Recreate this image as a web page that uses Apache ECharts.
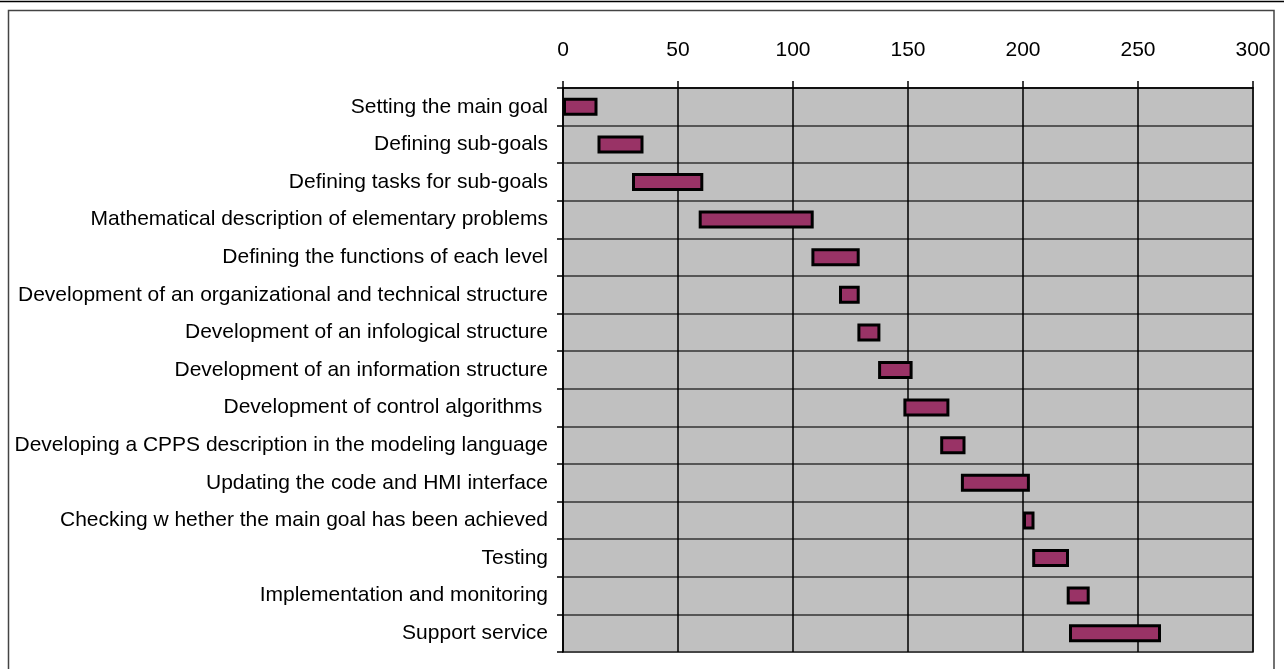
<!DOCTYPE html>
<html>
<head>
<meta charset="utf-8">
<style>
html,body{margin:0;padding:0;background:#fff;}
#chart{width:1284px;height:669px;}
</style>
<script src="https://cdn.jsdelivr.net/npm/echarts@6/dist/echarts.min.js"></script>
</head>
<body>
<div id="chart"></div>
<script>
const tasks = [
  "Setting the main goal",
  "Defining sub-goals",
  "Defining tasks for sub-goals",
  "Mathematical description of elementary problems",
  "Defining the functions of each level",
  "Development of an organizational and technical structure",
  "Development of an infological structure",
  "Development of an information structure",
  "Development of control algorithms ",
  "Developing a CPPS description in the modeling language",
  "Updating the code and HMI interface",
  "Checking w hether the main goal has been achieved",
  "Testing",
  "Implementation and monitoring",
  "Support service"
];
const starts =    [0, 15, 30, 59, 108, 120, 128, 137, 148, 164, 173, 200, 204, 219, 220];
const durations = [15, 20, 31, 50, 21, 9, 10, 15, 20, 11, 30, 5, 16, 10, 40];

const chart = echarts.init(document.getElementById('chart'));
chart.setOption({
  animation: false,
  backgroundColor: '#ffffff',
  textStyle: {fontFamily: 'Liberation Sans, Arial, sans-serif'},
  graphic: [
    {type: 'line', shape: {x1: 0, y1: 1.5, x2: 1284, y2: 1.5}, style: {stroke: '#000', lineWidth: 1.5}, z: 100},
    {type: 'rect', shape: {x: 8.5, y: 10.5, width: 1265.5, height: 700}, style: {fill: 'none', stroke: '#444', lineWidth: 1.5}, z: 100}
  ],
  grid: {
    left: 563, right: 31, top: 88, bottom: 17,
    show: true, backgroundColor: '#C0C0C0', borderColor: '#808080', borderWidth: 2
  },
  xAxis: {
    type: 'value', position: 'top', min: 0, max: 300, interval: 50,
    axisLine: {show: true, lineStyle: {color: '#000', width: 1.5}},
    axisTick: {show: true, inside: false, length: 7, lineStyle: {color: '#000', width: 1.5}},
    axisLabel: {color: '#000', fontSize: 21, margin: 27, fontFamily: 'Liberation Sans'},
    splitLine: {show: true, lineStyle: {color: '#000', width: 1.5}}
  },
  yAxis: {
    type: 'category', data: tasks, inverse: true,
    axisLine: {show: true, lineStyle: {color: '#000', width: 1.5}},
    axisTick: {show: true, length: 6, lineStyle: {color: '#000', width: 1.5}},
    axisLabel: {color: '#000', fontSize: 21, margin: 15, fontFamily: 'Liberation Sans'},
    splitLine: {show: true, lineStyle: {color: '#333', width: 1.5}}
  },
  series: [
    {type: 'bar', stack: 'g', data: starts, barWidth: 18, itemStyle: {color: 'transparent'}, silent: true},
    {type: 'bar', stack: 'g', data: durations, barWidth: 18,
     itemStyle: {color: '#993366', borderColor: '#000', borderWidth: 3}}
  ]
});
</script>
</body>
</html>
